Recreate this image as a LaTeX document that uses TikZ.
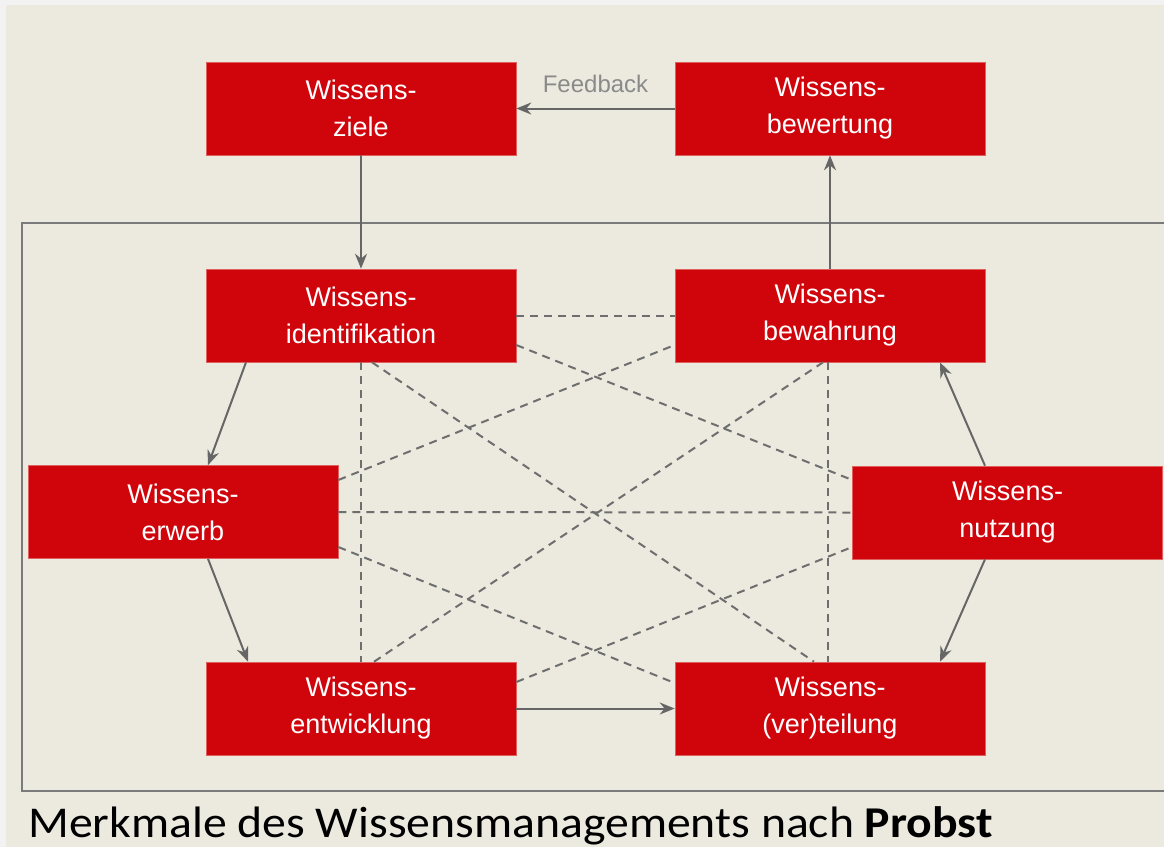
\documentclass[tikz,border=0pt]{standalone}
\usepackage{fontspec}
\setmainfont{Liberation Sans}
\newfontfamily\capfont{Carlito}
\usetikzlibrary{arrows.meta}
\definecolor{pagebg}{HTML}{F2F2F2}
\definecolor{beige}{HTML}{ECEADF}
\definecolor{boxred}{HTML}{D0050C}
\definecolor{boxedge}{HTML}{E06060}
\definecolor{arrowgray}{HTML}{666666}
\definecolor{dashgray}{HTML}{6E6E6E}
\definecolor{fbgray}{HTML}{8A8A8A}
\definecolor{framegray}{HTML}{7A7A7A}
\tikzset{
  kbox/.style={draw=boxedge, line width=0.6pt, fill=boxred, text=white,
    minimum width=310pt, minimum height=93pt, inner sep=0pt, align=center,
    font=\fontsize{27}{37}\selectfont},
  flow/.style={draw=arrowgray, line width=2pt, -{Stealth[length=15pt,width=12pt]}},
  link/.style={draw=dashgray, line width=2pt, dash pattern=on 8pt off 6pt}
}
\begin{document}
\begin{tikzpicture}[x=1pt,y=-1pt]
\useasboundingbox (0,0) rectangle (1164,847);
\fill[pagebg] (0,0) rectangle (1164,847);
\fill[beige] (6,5) rectangle (1164,847);
\draw[framegray, line width=1.8pt] (1166,223) -- (22,223) -- (22,791) -- (1166,791);

\node[kbox] (ziele) at (361,108.5) {Wissens-\\ziele};
\node[kbox] (bewertung) at (830,108.5) {Wissens-\\bewertung};
\node[kbox] (ident) at (361,315.5) {Wissens-\\identifikation};
\node[kbox] (bewahrung) at (830,315.5) {Wissens-\\bewahrung};
\node[kbox] (erwerb) at (183,512) {Wissens-\\erwerb};
\node[kbox] (nutzung) at (1007.5,512.5) {Wissens-\\nutzung};
\node[kbox] (entw) at (361,708.5) {Wissens-\\entwicklung};
\node[kbox] (vert) at (830,708.5) {Wissens-\\(ver)teilung};

% dashed links
\draw[link] (ident.east) -- (bewahrung.west);
\draw[link] (erwerb.east) -- (nutzung.west);
\draw[link] (ident.south) -- (entw.north);
\draw[link] ([xshift=-2pt]bewahrung.south) -- ([xshift=-2pt]vert.north);
\draw[link] ([yshift=-29.5pt]ident.east) -- ([yshift=32.5pt]nutzung.west);
\draw[link] ([xshift=11pt]ident.south) -- ([xshift=-16pt]vert.north);
\draw[link] ([xshift=13pt]entw.north) -- ([xshift=-7pt]bewahrung.south);
\draw[link] ([yshift=32pt]erwerb.east) -- ([yshift=-29.5pt]bewahrung.west);
\draw[link] ([yshift=-35pt]erwerb.east) -- ([yshift=25.5pt]vert.west);
\draw[link] ([yshift=26.5pt]entw.east) -- ([yshift=-34.5pt]nutzung.west);

% arrows
\draw[flow] (ziele.south) -- (ident.north);
\draw[flow] (bewahrung.north) -- (bewertung.south);
\draw[flow] (bewertung.west) -- node[above=11pt, text=fbgray, font=\fontsize{24}{28}\selectfont] (fb) {Feedback} (ziele.east);
\draw[flow] ([xshift=-115pt]ident.south) -- ([xshift=25pt]erwerb.north);
\draw[flow] ([xshift=25pt]erwerb.south) -- ([xshift=-113pt]entw.north);
\draw[flow] (entw.east) -- (vert.west);
\draw[flow] ([xshift=-22.5pt]nutzung.north) -- ([xshift=110pt]bewahrung.south);
\draw[flow] ([xshift=-22.5pt]nutzung.south) -- ([xshift=110pt]vert.north);

\node[anchor=base west, inner sep=0pt, font=\capfont\fontsize{44}{50}\selectfont] (cap) at (28,837)
  {\scalebox{1.085}[1]{Merkmale des Wissensmanagements nach \textbf{Probst}}};
\end{tikzpicture}
\end{document}
